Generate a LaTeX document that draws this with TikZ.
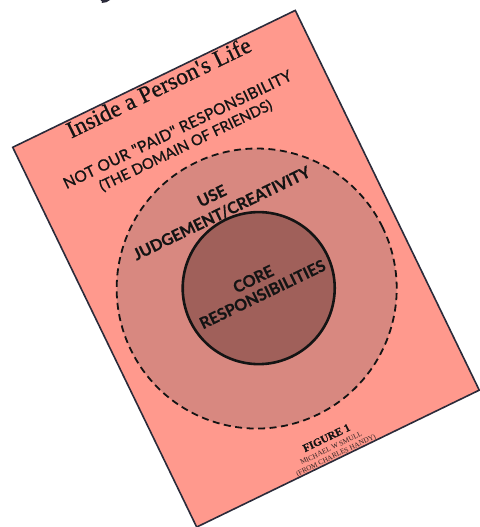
\documentclass[tikz,border=0pt]{standalone}
\usepackage{fontspec}
\setmainfont{Liberation Serif}
\newfontfamily\titlefont[FakeBold=0.8]{Liberation Serif}
\newfontfamily\capsans[FakeBold=1.0,LetterSpace=2]{Lato}
\newfontfamily\capsanstight[FakeBold=1.0]{Lato}
\newfontfamily\capsansbold[FakeBold=0.6]{Lato Bold}
\newfontfamily\figfont[FakeBold=0.6]{Liberation Serif Bold}
\definecolor{pagefill}{HTML}{FF998D}
\definecolor{pageedge}{HTML}{2B2B3A}
\definecolor{outerfill}{HTML}{D88880}
\definecolor{innerfill}{HTML}{A0605A}
\definecolor{inkcol}{HTML}{141414}
\definecolor{smallink}{HTML}{2E2222}
\tikzset{
  pagebox/.style={draw=pageedge, fill=pagefill, line width=1.6pt, transform shape, inner sep=0pt},
  outerring/.style={circle, draw=inkcol, fill=outerfill, line width=1.8pt, dash pattern=on 7pt off 4.5pt, transform shape, inner sep=0pt, minimum size=280pt},
  innerring/.style={circle, draw=inkcol, fill=innerfill, line width=2.6pt, transform shape, inner sep=0pt, minimum size=152pt},
  lbl/.style={transform shape, text=inkcol, inner sep=0pt, align=center},
}
\begin{document}
\begin{tikzpicture}[x=1pt,y=-1pt]
\useasboundingbox (0,0) rectangle (479,527);
% fragment of cropped text at the top edge
\fill[pageedge] (100.5,0) -- (110,0) .. controls (108,2) and (105,3) .. (101.5,3) .. controls (102.5,2) .. (100.5,0) -- cycle;
\begin{scope}[shift={(12.7,147.3)}, rotate=25.85]
  \node[pagebox, minimum width=314pt, minimum height=422pt] (page) at (157,211) {};
  \node[outerring] (outer) at (158,233.5) {};
  \node[innerring] (inner) at (160,234) {};
  \node[lbl, anchor=base, font=\titlefont\fontsize{23.5}{26}\selectfont] (title) at (157.5,17.7) {Inside a Person's Life};
  \node[lbl, font=\capsans\fontsize{15.5}{17}\selectfont] (notpaid) at (156,55.6) {NOT OUR "PAID" RESPONSIBILITY};
  \node[lbl, font=\capsanstight\fontsize{14.7}{17}\selectfont] (friends) at (156.4,74.2) {(THE DOMAIN OF FRIENDS)};
  \node[lbl, font=\capsansbold\fontsize{16}{18}\selectfont] (use) at (158,130.4) {USE};
  \node[lbl, font=\capsansbold\fontsize{16}{18}\selectfont] (judge) at (159.3,150.5) {JUDGEMENT/CREATIVITY};
  \node[lbl, font=\capsansbold\fontsize{16}{18}\selectfont] (core) at (159.1,223.4) {CORE};
  \node[lbl, font=\capsansbold\fontsize{16}{18}\selectfont] (resp) at (160.7,241.1) {RESPONSIBILITIES};
  \node[lbl, font=\figfont\fontsize{11}{12}\selectfont] (fig) at (155.7,398.3) {FIGURE 1};
  \node[lbl, text=smallink, font=\fontsize{7.2}{8}\selectfont] (author) at (155.4,409.6) {MICHAEL W SMULL};
  \node[lbl, text=smallink, font=\fontsize{7.2}{8}\selectfont] (source) at (156.7,418.6) {(FROM CHARLES HANDY)};
\end{scope}
\end{tikzpicture}
\end{document}
